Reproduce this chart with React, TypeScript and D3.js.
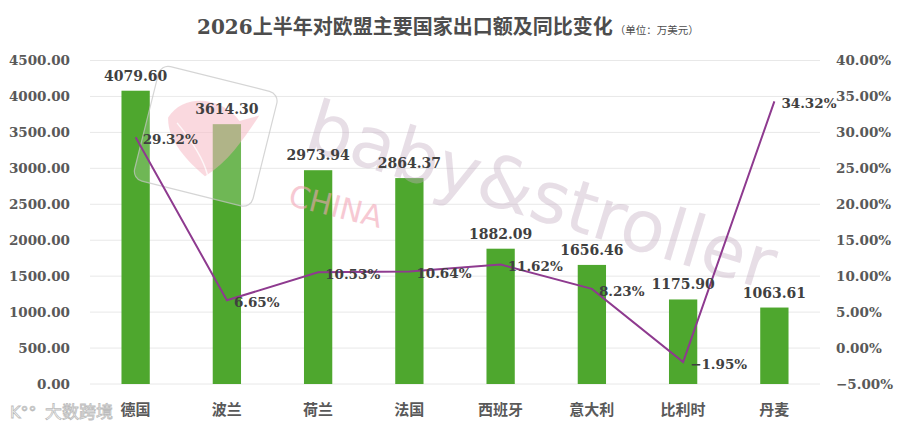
import { useEffect, useRef } from 'react';
import * as d3 from 'd3';

// 2026上半年对欧盟主要国家出口额（万美元）及同比变化（%）
const countries = ["德国", "波兰", "荷兰", "法国", "西班牙", "意大利", "比利时", "丹麦"];
const exportValues = [4079.60, 3614.30, 2973.94, 2864.37, 1882.09, 1656.46, 1175.90, 1063.61];
const yoyChange = [29.32, 6.65, 10.53, 10.64, 11.62, 8.23, -1.95, 34.32];
const leftTicks = [0, 500, 1000, 1500, 2000, 2500, 3000, 3500, 4000, 4500];
const rightTicks = [-5, 0, 5, 10, 15, 20, 25, 30, 35, 40];

const W = 900;
const H = 430;
const numFont = "'DejaVu Serif', 'Noto Sans CJK SC', serif";
const cjkFont = "'Noto Sans CJK SC', serif";

const App = () => {
  const ref = useRef<SVGSVGElement>(null);

  useEffect(() => {
    if (!ref.current) return;
    const svg = d3.select(ref.current);
    svg.selectAll("*").remove();

    const left = 90, right = 820, top = 60.5, bottom = 384;

    const x = d3.scaleBand<string>()
      .domain(countries)
      .range([left, right])
      .paddingInner(0.69)
      .paddingOuter(0.345);
    const yL = d3.scaleLinear().domain([0, 4500]).range([bottom, top]);
    const yR = d3.scaleLinear().domain([-5, 40]).range([bottom, top]);
    const cx = (c: string) => (x(c) ?? 0) + x.bandwidth() / 2;

    svg.append("rect").attr("width", W).attr("height", H).attr("fill", "#fff");

    // gridlines
    svg.append("g")
      .selectAll("line")
      .data(leftTicks)
      .join("line")
      .attr("x1", left)
      .attr("x2", right)
      .attr("y1", d => yL(d))
      .attr("y2", d => yL(d))
      .attr("stroke", "#e8e8e8")
      .attr("stroke-width", 1);

    // left axis labels
    svg.append("g")
      .selectAll("text")
      .data(leftTicks)
      .join("text")
      .attr("x", 70)
      .attr("y", d => yL(d))
      .attr("dy", "0.36em")
      .attr("text-anchor", "end")
      .style("font-family", numFont)
      .style("font-weight", "bold")
      .style("font-size", "13.5px")
      .style("fill", "#595959")
      .text(d => d3.format(".2f")(d));

    // right axis labels
    svg.append("g")
      .selectAll("text")
      .data(rightTicks)
      .join("text")
      .attr("x", 836)
      .attr("y", d => yR(d))
      .attr("dy", "0.36em")
      .attr("text-anchor", "start")
      .style("font-family", numFont)
      .style("font-weight", "bold")
      .style("font-size", "13.5px")
      .style("fill", "#595959")
      .text(d => d3.format(".2f")(d) + "%");

    // bars
    svg.append("g")
      .selectAll("rect")
      .data(countries)
      .join("rect")
      .attr("x", d => x(d) ?? 0)
      .attr("width", x.bandwidth())
      .attr("y", (d, i) => yL(exportValues[i]))
      .attr("height", (d, i) => bottom - yL(exportValues[i]))
      .attr("fill", "#4ea72e");

    // watermark: logo box
    const logo = svg.append("g")
      .attr("transform", "translate(205,135) rotate(14)")
      .attr("opacity", 0.75);
    logo.append("rect")
      .attr("x", -60).attr("y", -58).attr("width", 122).attr("height", 118)
      .attr("rx", 10)
      .attr("fill", "rgba(255,255,255,0.25)")
      .attr("stroke", "#c8c8c8")
      .attr("stroke-width", 1.2);
    logo.append("path")
      .attr("d", "M-40,-8 C-30,-38 10,-40 30,-22 L48,-32 C40,-10 30,20 10,40 C-10,30 -35,15 -40,-8 Z")
      .attr("fill", "#f6b8c3")
      .attr("opacity", 0.7);
    logo.append("path")
      .attr("d", "M-30,-5 C-10,10 5,25 12,38")
      .attr("fill", "none")
      .attr("stroke", "#fff")
      .attr("stroke-width", 1.5)
      .attr("opacity", 0.8);

    // watermark text
    svg.append("text")
      .attr("transform", "translate(302,148) rotate(17)")
      .style("font-family", "'DejaVu Sans', sans-serif")
      .style("font-size", "72px")
      .style("fill", "#c4adc2")
      .style("opacity", 0.4)
      .text("baby&stroller");
    svg.append("text")
      .attr("transform", "translate(287,205) rotate(14)")
      .style("font-family", "'DejaVu Sans', sans-serif")
      .style("font-size", "30px")
      .style("fill", "#f2a6b6")
      .style("opacity", 0.6)
      .text("CHINA");

    // line
    const line = d3.line<number>()
      .x((d, i) => cx(countries[i]))
      .y(d => yR(d));
    svg.append("path")
      .datum(yoyChange)
      .attr("d", line)
      .attr("fill", "none")
      .attr("stroke", "#8e3a8f")
      .attr("stroke-width", 2);

    // bar value labels
    svg.append("g")
      .selectAll("text")
      .data(countries)
      .join("text")
      .attr("x", d => cx(d))
      .attr("y", (d, i) => yL(exportValues[i]) - 10)
      .attr("text-anchor", "middle")
      .style("font-family", numFont)
      .style("font-weight", "bold")
      .style("font-size", "14px")
      .style("fill", "#404040")
      .text((d, i) => d3.format(".2f")(exportValues[i]));

    // line value labels
    svg.append("g")
      .selectAll("text")
      .data(countries)
      .join("text")
      .attr("x", d => cx(d) + 7)
      .attr("y", (d, i) => yR(yoyChange[i]) + 2)
      .attr("dy", "0.36em")
      .attr("text-anchor", "start")
      .style("font-family", numFont)
      .style("font-weight", "bold")
      .style("font-size", "13.5px")
      .style("fill", "#404040")
      .text((d, i) => d3.format(".2f")(yoyChange[i]) + "%");

    // category labels
    svg.append("g")
      .selectAll("text")
      .data(countries)
      .join("text")
      .attr("x", d => cx(d))
      .attr("y", 410)
      .attr("dy", "0.36em")
      .attr("text-anchor", "middle")
      .style("font-family", cjkFont)
      .style("font-weight", "bold")
      .style("font-size", "15px")
      .style("fill", "#595959")
      .text(d => d);

    // title
    const title = svg.append("text")
      .attr("x", 197)
      .attr("y", 34)
      .style("fill", "#4d4d4d")
      .style("font-weight", "bold");
    title.append("tspan")
      .style("font-family", numFont)
      .style("font-size", "20px")
      .text("2026");
    title.append("tspan")
      .style("font-family", cjkFont)
      .style("font-size", "20px")
      .text("上半年对欧盟主要国家出口额及同比变化");
    title.append("tspan")
      .attr("dx", 2)
      .style("font-family", cjkFont)
      .style("font-size", "10.5px")
      .style("font-weight", "normal")
      .text("（单位：万美元）");

    // bottom-left watermark
    const wm = svg.append("g").attr("opacity", 0.9);
    wm.append("text")
      .attr("x", 10)
      .attr("y", 418)
      .style("font-family", "'DejaVu Sans', sans-serif")
      .style("font-size", "16px")
      .style("fill", "#fff")
      .style("stroke", "#b5b5b5")
      .style("stroke-width", 0.8)
      .text("K°°");
    wm.append("text")
      .attr("x", 45)
      .attr("y", 418)
      .style("font-family", cjkFont)
      .style("font-size", "17px")
      .style("fill", "#fff")
      .style("stroke", "#b5b5b5")
      .style("stroke-width", 0.8)
      .text("大数跨境");
  }, []);

  return (
    <svg
      ref={ref}
      width={W}
      height={H}
      style={{ position: 'absolute', left: 0, top: 0, display: 'block' }}
    />
  );
};

export default App;
